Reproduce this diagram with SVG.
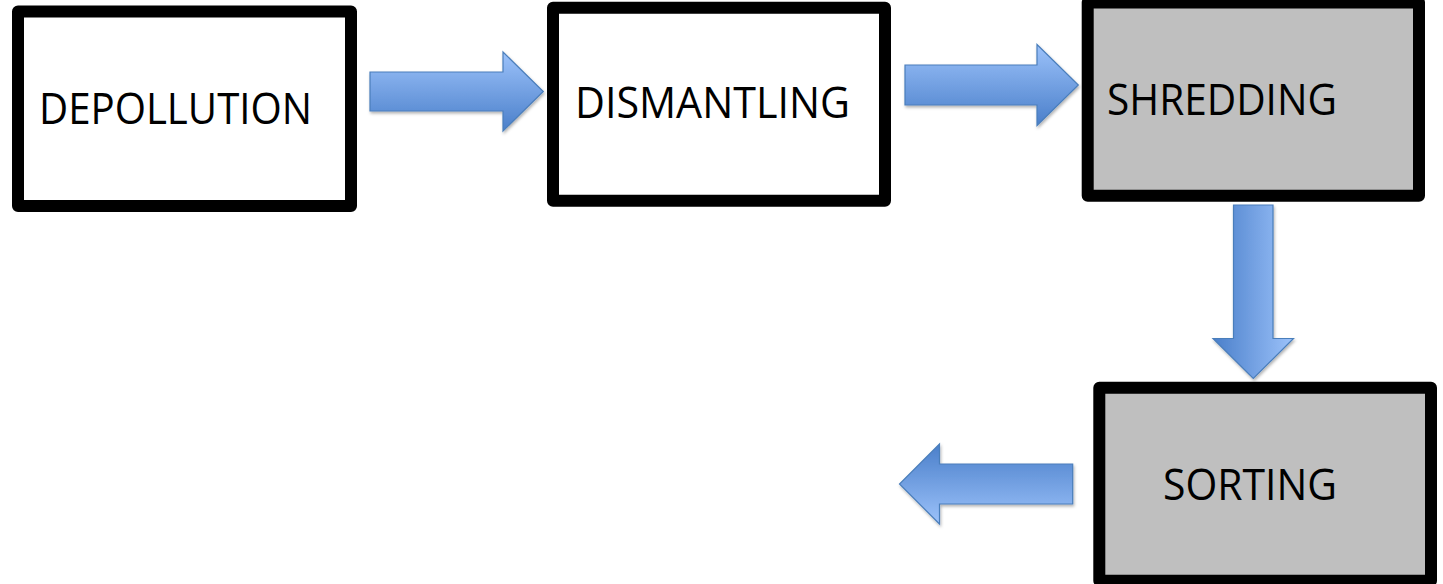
<svg xmlns="http://www.w3.org/2000/svg" width="1443" height="584" viewBox="0 0 1443 584">
  <style>
    .box { stroke: #000; stroke-width: 12; stroke-linejoin: round; }
    .plain { fill: #fff; }
    .grey { fill: #bfbfbf; }
    .label { font-family: "Open Sans", "Liberation Sans", sans-serif; font-size: 43px; fill: #000; }
    .arrow { stroke: #4a7ebb; stroke-width: 1.2; stroke-linejoin: miter; filter: url(#shadow); }
  </style>
  <defs>
    <!-- blue fill, light edge on the arrow's left-hand side -->
    <linearGradient id="gRight" x1="0" y1="0" x2="0" y2="1">
      <stop offset="0" stop-color="#9cc2fa"/>
      <stop offset="1" stop-color="#4a7fca"/>
    </linearGradient>
    <linearGradient id="gDown" x1="0" y1="0" x2="1" y2="0">
      <stop offset="0" stop-color="#4a7fca"/>
      <stop offset="1" stop-color="#9cc2fa"/>
    </linearGradient>
    <linearGradient id="gLeft" x1="0" y1="0" x2="0" y2="1">
      <stop offset="0" stop-color="#4a7fca"/>
      <stop offset="1" stop-color="#9cc2fa"/>
    </linearGradient>
    <filter id="shadow" x="-10%" y="-10%" width="130%" height="130%">
      <feDropShadow dx="1" dy="2" stdDeviation="1.6" flood-color="#000" flood-opacity="0.3"/>
    </filter>
  </defs>

  <g id="depollution">
    <rect class="box plain" x="18" y="11.5" width="333" height="194.5"/>
    <text class="label" x="39" y="124" textLength="273" lengthAdjust="spacingAndGlyphs">DEPOLLUTION</text>
  </g>

  <g id="dismantling">
    <rect class="box plain" x="553" y="7.7" width="332" height="193"/>
    <text class="label" x="575" y="118" textLength="275" lengthAdjust="spacingAndGlyphs">DISMANTLING</text>
  </g>

  <g id="shredding">
    <rect class="box grey" x="1087.7" y="2.5" width="331.3" height="193.2"/>
    <text class="label" x="1107" y="115" textLength="230" lengthAdjust="spacingAndGlyphs">SHREDDING</text>
  </g>

  <g id="sorting">
    <rect class="box grey" x="1099.3" y="387.7" width="331.7" height="193"/>
    <text class="label" x="1163" y="500" textLength="174" lengthAdjust="spacingAndGlyphs">SORTING</text>
  </g>

  <g id="connectors">
    <path class="arrow" fill="url(#gRight)" d="M370,72 H503 V52 L543.3,91.5 L503,131 V111 H370 Z"/>
    <path class="arrow" fill="url(#gRight)" d="M905,65 H1037 V44.5 L1078.3,85 L1037,125.5 V105 H905 Z"/>
    <path class="arrow" fill="url(#gDown)" d="M1233.5,205 H1273 V338.5 H1293.5 L1253.3,378.5 L1213,338.5 H1233.5 Z"/>
    <path class="arrow" fill="url(#gLeft)" d="M1072.7,464 H939.5 V444 L899.5,484 L939.5,524 V504 H1072.7 Z"/>
  </g>
</svg>
